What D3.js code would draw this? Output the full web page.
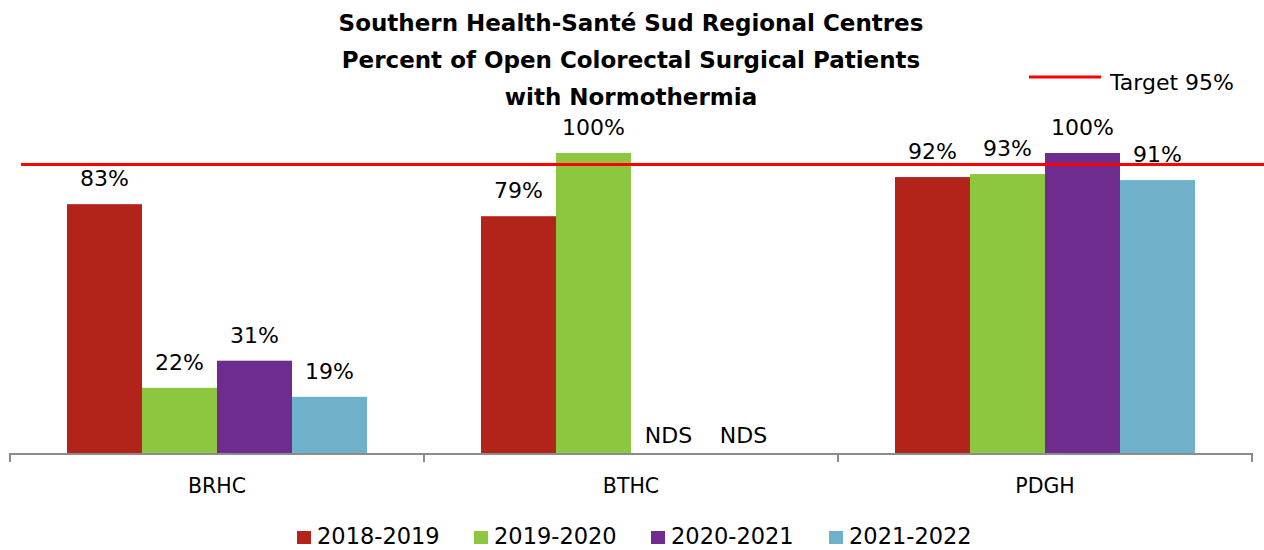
<!DOCTYPE html>
<html><head><meta charset="utf-8">
<script src="https://cdn.jsdelivr.net/npm/d3@7"></script>
<style>body{margin:0;background:#fff}svg{display:block}text{font-family:"DejaVu Sans",sans-serif}</style>
</head><body><svg id="c" width="1264" height="550"></svg>
<script>
const categories = ["BRHC", "BTHC", "PDGH"];
const seriesNames = ["2018-2019", "2019-2020", "2020-2021", "2021-2022"];
const v2018 = [83, 79, 92];
const v2019 = [22, 100, 93];
const v2020 = [31, null, 100];
const v2021 = [19, null, 91];
const seriesColors = ["#B2231A", "#8DC63F", "#6E2C8E", "#6FB1C8"];
const targetLabel = "Target 95%";
const targetLineValue = 96.2;
const titleLines = ["Southern Health-Santé Sud Regional Centres", "Percent of Open Colorectal Surgical Patients", "with Normothermia"];

const series = [v2018, v2019, v2020, v2021];
const svg = d3.select("#c");
const x0 = d3.scaleBand().domain(categories).range([10, 1252]).paddingInner(0).paddingOuter(0);
const groupW = 300;
const x1 = d3.scaleBand().domain(seriesNames).range([0, groupW]).padding(0);
const y = d3.scaleLinear().domain([0, 100]).range([454, 153]);

// bars
categories.forEach((c, ci) => {
  const g = svg.append("g").attr("transform", `translate(${x0(c) + (x0.bandwidth() - groupW) / 2},0)`);
  seriesNames.forEach((s, si) => {
    const v = series[si][ci];
    const bx = x1(s);
    if (v != null) {
      g.append("rect").attr("x", bx).attr("y", y(v)).attr("width", x1.bandwidth()).attr("height", y(0) - y(v)).attr("fill", seriesColors[si]);
    }
    g.append("text").attr("x", bx + x1.bandwidth() / 2).attr("y", v != null ? y(v) - 18 : y(0) - 11)
      .attr("text-anchor", "middle").attr("font-size", 22).attr("fill", "#000")
      .text(v != null ? v + "%" : "NDS");
  });
});

// axis
const axis = svg.append("g").attr("transform", `translate(0,${y(0)})`)
  .call(d3.axisBottom(x0).tickSize(0).tickPadding(24));
axis.select(".domain").attr("stroke", "#8c8c8c").attr("stroke-width", 2).attr("d", "M10,8V0H1252V8");
axis.selectAll("text").attr("font-size", 20.5).attr("fill", "#000").attr("dy", null).attr("y", 39).style("font-family", '"DejaVu Sans",sans-serif');
const bounds = [10].concat(categories.map(c => x0(c) + x0.bandwidth()));
axis.selectAll(".sep").data(bounds).enter().append("line").attr("class", "sep")
  .attr("x1", d => d).attr("x2", d => d).attr("y1", 0).attr("y2", 8).attr("stroke", "#8c8c8c").attr("stroke-width", 2);

// target line
svg.append("line").attr("x1", 21).attr("x2", 1264).attr("y1", y(targetLineValue)).attr("y2", y(targetLineValue))
  .attr("stroke", "#FF0000").attr("stroke-width", 3);

// title
svg.append("text").attr("x", 631).attr("y", 31).attr("text-anchor", "middle").attr("font-size", 23).attr("font-weight", "bold")
  .selectAll("tspan").data(titleLines).enter().append("tspan").attr("x", 631).attr("dy", (d, i) => i ? 37 : 0).text(d => d);

// target legend
svg.append("line").attr("x1", 1029).attr("x2", 1101).attr("y1", 77).attr("y2", 77).attr("stroke", "#FF0000").attr("stroke-width", 3);
svg.append("text").attr("x", 1110).attr("y", 90).attr("font-size", 22).text(targetLabel);

// legend
const legX = [297, 474, 651, 829];
seriesNames.forEach((s, i) => {
  svg.append("rect").attr("x", legX[i]).attr("y", 531).attr("width", 14).attr("height", 13).attr("fill", seriesColors[i]);
  svg.append("text").attr("x", legX[i] + 20).attr("y", 544).attr("font-size", 22.5).text(s);
});
</script></body></html>
